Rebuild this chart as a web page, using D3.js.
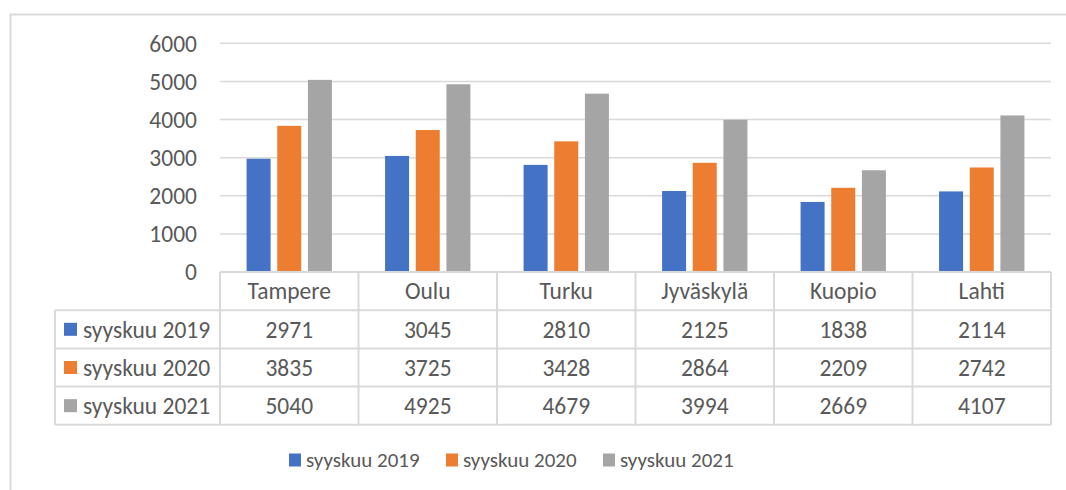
<!DOCTYPE html>
<html>
<head>
<meta charset="utf-8">
<script src="https://cdn.jsdelivr.net/npm/d3@7"></script>
<style>
  body { margin: 0; background: #fff; }
  svg text { font-family: Carlito, Calibri, Lato, sans-serif; fill: #595959; }
</style>
</head>
<body>
<div id="chart"></div>
<script>
// chart data
let cities = ["Tampere", "Oulu", "Turku", "Jyväskylä", "Kuopio", "Lahti"];
let seriesNames = ["syyskuu 2019", "syyskuu 2020", "syyskuu 2021"];
let sept2019 = [2971, 3045, 2810, 2125, 1838, 2114];
let sept2020 = [3835, 3725, 3428, 2864, 2209, 2742];
let sept2021 = [5040, 4925, 4679, 3994, 2669, 4107];
let yTicks = [0, 1000, 2000, 3000, 4000, 5000, 6000];

let colors = ["#4472C4", "#ED7D31", "#A5A5A5"];
let values = [sept2019, sept2020, sept2021];

let width = 1066, height = 490;
let gridCol = "#d9d9d9";
let fontSize = 23.5;
let legendFont = 21;

let svg = d3.select("#chart").append("svg")
    .attr("width", width)
    .attr("height", height);

// outer chart border (only top and left visible)
svg.append("path")
    .attr("d", "M10.5," + height + "V14.5H" + width)
    .attr("fill", "none")
    .attr("stroke", gridCol)
    .attr("stroke-width", 2);

// scales
let x = d3.scaleBand().domain(cities).range([220, 1051]);
let xs = d3.scaleBand().domain(seriesNames).range([0, x.bandwidth()])
    .paddingInner(0.2175).paddingOuter(0.867);
let y = d3.scaleLinear().domain([0, 6000]).range([272, 43.3]);

// gridlines + y labels
svg.append("g").selectAll("line")
    .data(yTicks.filter(d => d > 0))
    .enter().append("line")
    .attr("x1", 220).attr("x2", 1051)
    .attr("y1", d => y(d)).attr("y2", d => y(d))
    .attr("stroke", gridCol).attr("stroke-width", 1.5);

svg.append("g").selectAll("text")
    .data(yTicks)
    .enter().append("text")
    .attr("x", 197)
    .attr("y", d => y(d))
    .attr("dy", "0.35em")
    .attr("text-anchor", "end")
    .style("font-size", fontSize + "px")
    .text(d => d);

// bars
let groups = svg.append("g").selectAll("g")
    .data(seriesNames)
    .enter().append("g")
    .attr("fill", (d, i) => colors[i]);

groups.selectAll("rect")
    .data((s, i) => cities.map((c, j) => ({ city: c, series: s, value: values[i][j] })))
    .enter().append("rect")
    .attr("x", d => x(d.city) + xs(d.series))
    .attr("width", xs.bandwidth())
    .attr("y", d => y(d.value))
    .attr("height", d => y(0) - y(d.value));

// data table
let rowTop = 272, rowH = 38.2, tableLeft = 55;
let table = svg.append("g");
let lineStyle = sel => sel.attr("stroke", gridCol).attr("stroke-width", 2).attr("fill", "none");

// horizontal lines
table.append("line").call(lineStyle)
    .attr("x1", 220).attr("x2", 1051).attr("y1", rowTop).attr("y2", rowTop);
for (let r = 1; r <= 4; r++) {
    table.append("line").call(lineStyle)
        .attr("x1", tableLeft).attr("x2", 1051)
        .attr("y1", rowTop + r * rowH).attr("y2", rowTop + r * rowH);
}
// vertical lines
table.append("line").call(lineStyle)
    .attr("x1", tableLeft).attr("x2", tableLeft)
    .attr("y1", rowTop + rowH).attr("y2", rowTop + 4 * rowH);
x.domain().concat([null]).forEach(c => {
    let xx = c === null ? 1051 : x(c);
    table.append("line").call(lineStyle)
        .attr("x1", xx).attr("x2", xx)
        .attr("y1", rowTop).attr("y2", rowTop + 4 * rowH);
});

// header
table.selectAll(".hdr")
    .data(cities)
    .enter().append("text")
    .attr("class", "hdr")
    .attr("x", d => x(d) + x.bandwidth() / 2)
    .attr("y", rowTop + rowH / 2)
    .attr("dy", "0.35em")
    .attr("text-anchor", "middle")
    .style("font-size", fontSize + "px")
    .text(d => d);

// rows
seriesNames.forEach((s, i) => {
    let cy = rowTop + (i + 1) * rowH + rowH / 2;
    table.append("rect")
        .attr("x", 64).attr("y", cy - 6.5)
        .attr("width", 13).attr("height", 13)
        .attr("fill", colors[i]);
    table.append("text")
        .attr("x", 83).attr("y", cy).attr("dy", "0.35em")
        .style("font-size", fontSize + "px")
        .text(s);
    table.selectAll(".v" + i)
        .data(values[i])
        .enter().append("text")
        .attr("x", (d, j) => x(cities[j]) + x.bandwidth() / 2)
        .attr("y", cy).attr("dy", "0.35em")
        .attr("text-anchor", "middle")
        .style("font-size", fontSize + "px")
        .text(d => d);
});

// legend
let legendX = [289, 446, 603];
let legend = svg.append("g").selectAll("g")
    .data(seriesNames)
    .enter().append("g")
    .attr("transform", (d, i) => "translate(" + legendX[i] + ",460)");
legend.append("rect")
    .attr("x", 0).attr("y", -6.5)
    .attr("width", 12).attr("height", 13)
    .attr("fill", (d, i) => colors[i]);
legend.append("text")
    .attr("x", 17).attr("dy", "0.35em")
    .style("font-size", legendFont + "px")
    .text(d => d);
</script>
</body>
</html>
